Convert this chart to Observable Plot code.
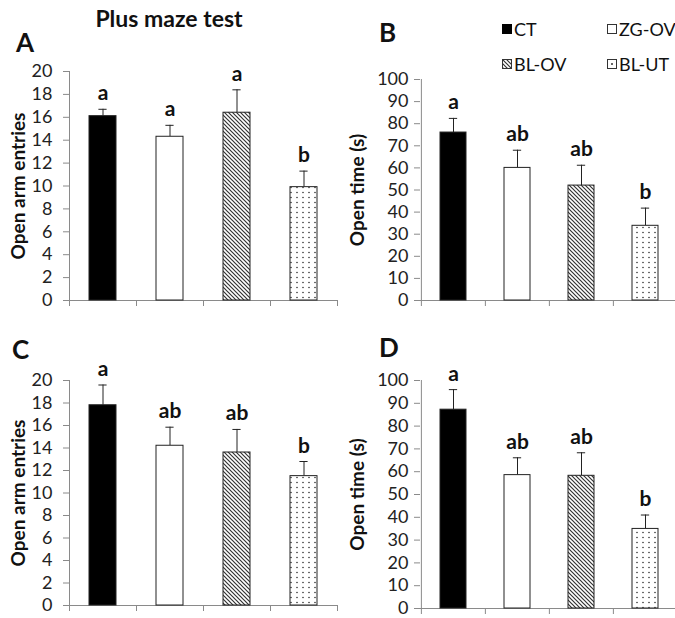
<!DOCTYPE html>
<html>
<head>
<meta charset="utf-8">
<script src="https://cdn.jsdelivr.net/npm/d3@7"></script>
<script src="https://cdn.jsdelivr.net/npm/@observablehq/plot@0.6"></script>
<style>
  html, body { margin: 0; padding: 0; background: #fff; }
  #chart { position: relative; width: 675px; height: 618px; overflow: hidden; font-family: Lato, "Open Sans", sans-serif; color: #111; }
  #chart svg.panel { position: absolute; }
  .abs { position: absolute; white-space: nowrap; line-height: 1; }
  .title { font-weight: bold; font-size: 23px; }
  .plabel { font-weight: bold; font-size: 26px; }
  .leg { font-size: 18px; display: flex; align-items: center; }
  .leg svg { margin-right: 2px; }
</style>
</head>
<body>
<div id="chart">
  <svg width="0" height="0" style="position:absolute">
    <defs>
      <pattern id="hatch" patternUnits="userSpaceOnUse" width="4" height="4">
        <rect width="4" height="4" fill="#fff"/>
        <path d="M-1,-1 L5,5 M-1,3 L1,5 M3,-1 L5,1" stroke="#333" stroke-width="1.2"/>
      </pattern>
      <pattern id="dots" patternUnits="userSpaceOnUse" width="6" height="5">
        <rect width="6" height="5" fill="#fff"/>
        <circle cx="3" cy="2.5" r="0.8" fill="#333"/>
      </pattern>
    </defs>
  </svg>
</div>
<script>
// ---- data ----
const groups = ["CT", "ZG-OV", "BL-OV", "BL-UT"];
const entriesA = [16.1, 14.3, 16.4, 9.9];
const entriesAErr = [0.6, 1.0, 2.0, 1.4];
const lettersA = ["a", "a", "a", "b"];
const timeB = [76.0, 60.0, 52.0, 33.8];
const timeBErr = [6.4, 8.0, 9.2, 8.0];
const lettersB = ["a", "ab", "ab", "b"];
const entriesC = [17.8, 14.2, 13.6, 11.5];
const entriesCErr = [1.8, 1.65, 2.05, 1.3];
const lettersC = ["a", "ab", "ab", "b"];
const timeD = [87.2, 58.5, 58.2, 34.9];
const timeDErr = [8.8, 7.6, 10.1, 6.1];
const lettersD = ["a", "ab", "ab", "b"];
const entriesTicks = [0, 2, 4, 6, 8, 10, 12, 14, 16, 18, 20];
const timeTicks = [0, 10, 20, 30, 40, 50, 60, 70, 80, 90, 100];
const fills = ["black", "white", "url(#hatch)", "url(#dots)"];
const legendSwatches = ["black", "white", "url(#hatch)", "center-dot"];

const chart = document.getElementById("chart");

function panel(cfg) {
  const data = groups.map((g, i) => ({
    group: g, value: cfg.values[i], top: cfg.values[i] + cfg.errs[i],
    letter: cfg.letters[i], fill: fills[i]
  }));
  const step = (cfg.width - cfg.ml - cfg.mr) / groups.length;
  const bw = step * 0.4;
  const capW = 8;
  const yMax = cfg.ticks[cfg.ticks.length - 1];
  const svg = Plot.plot({
    width: cfg.width, height: cfg.height,
    marginLeft: cfg.ml, marginRight: cfg.mr, marginTop: cfg.mt, marginBottom: cfg.mb,
    style: { fontFamily: "Lato, 'Open Sans', sans-serif", background: "transparent", overflow: "visible", color: "#111" },
    x: { domain: groups, paddingInner: 0.6, paddingOuter: 0.3 },
    y: { domain: [0, yMax] },
    color: { type: "identity" },
    marks: [
      Plot.axisY({ ticks: cfg.ticks, tickSize: 6, tickPadding: cfg.tp, stroke: "#8a8a8a", fill: "#222", fontSize: 18, label: null }),
      Plot.ruleX([groups[0]], { x: d => d, y1: 0, y2: yMax, dx: -step / 2, stroke: "#8a8a8a" }),
      Plot.ruleY([0], { stroke: "#8a8a8a" }),
      Plot.axisX({ ticks: groups, tickSize: 6, tickFormat: () => "", dx: -step / 2, stroke: "#8a8a8a", label: null }),
      Plot.axisX({ ticks: [groups[groups.length - 1]], tickSize: 6, tickFormat: () => "", dx: step / 2, stroke: "#8a8a8a", label: null }),
      Plot.ruleX(data, { x: "group", y1: "value", y2: "top", stroke: "#222" }),
      Plot.tickY(data, { x: "group", y: "top", stroke: "#222", insetLeft: (bw - capW) / 2, insetRight: (bw - capW) / 2 }),
      Plot.barY(data, { x: "group", y: "value", fill: "fill", stroke: "#222", strokeWidth: 1 }),
      Plot.text(data, { x: "group", y: "top", text: "letter", lineAnchor: "bottom", dy: -9, fontWeight: "bold", fontSize: 21, fill: "#111" }),
      Plot.text([cfg.label], { frameAnchor: "left", text: d => d, rotate: -90, textAnchor: "middle", lineAnchor: "middle", dx: cfg.labelDx, fontWeight: "bold", fontSize: 19, fill: "#111" })
    ]
  });
  svg.classList.add("panel");
  svg.style.left = cfg.left + "px";
  svg.style.top = cfg.top + "px";
  chart.appendChild(svg);
}

panel({ values: entriesA, errs: entriesAErr, letters: lettersA, ticks: entriesTicks, label: "Open arm entries",
  left: 0, top: 40, width: 340, height: 280, ml: 69, mr: 3, mt: 31, mb: 20, tp: 11, labelDx: -51 });
panel({ values: timeB, errs: timeBErr, letters: lettersB, ticks: timeTicks, label: "Open time (s)",
  left: 340, top: 40, width: 337, height: 280, ml: 80, mr: 0, mt: 39, mb: 20, tp: 6, labelDx: -63 });
panel({ values: entriesC, errs: entriesCErr, letters: lettersC, ticks: entriesTicks, label: "Open arm entries",
  left: 0, top: 340, width: 340, height: 285, ml: 69, mr: 3, mt: 40, mb: 20, tp: 11, labelDx: -51 });
panel({ values: timeD, errs: timeDErr, letters: lettersD, ticks: timeTicks, label: "Open time (s)",
  left: 340, top: 340, width: 337, height: 288, ml: 80, mr: 0, mt: 40, mb: 20, tp: 6, labelDx: -63 });

function addText(txt, cls, x, y, anchor) {
  const el = document.createElement("div");
  el.className = "abs " + cls;
  el.textContent = txt;
  el.style.left = x + "px";
  el.style.top = y + "px";
  if (anchor === "middle") el.style.transform = "translateX(-50%)";
  chart.appendChild(el);
  return el;
}
addText("Plus maze test", "title", 169, 7, "middle");
addText("A", "plabel", 16, 29);
addText("B", "plabel", 379, 19);
addText("C", "plabel", 12, 336);
addText("D", "plabel", 379, 334);

// legend
const legPos = [[502, 20], [607, 20], [502, 55], [607, 55]];
groups.forEach((g, i) => {
  const el = document.createElement("div");
  el.className = "abs leg";
  el.style.left = legPos[i][0] + "px";
  el.style.top = legPos[i][1] + "px";
  const sw = legendSwatches[i];
  let inner;
  if (sw === "center-dot") inner = '<rect x="0.5" y="0.5" width="9" height="9" fill="#fff" stroke="#333"/><circle cx="5" cy="5" r="1" fill="#333"/>';
  else if (sw === "black") inner = '<rect x="0" y="0" width="10" height="10" fill="#000"/>';
  else inner = '<rect x="0.5" y="0.5" width="9" height="9" fill="' + sw + '" stroke="#333"/>';
  el.innerHTML = '<svg width="10" height="10" viewBox="0 0 10 10">' + inner + '</svg><span>' + g + '</span>';
  chart.appendChild(el);
});
</script>
</body>
</html>
